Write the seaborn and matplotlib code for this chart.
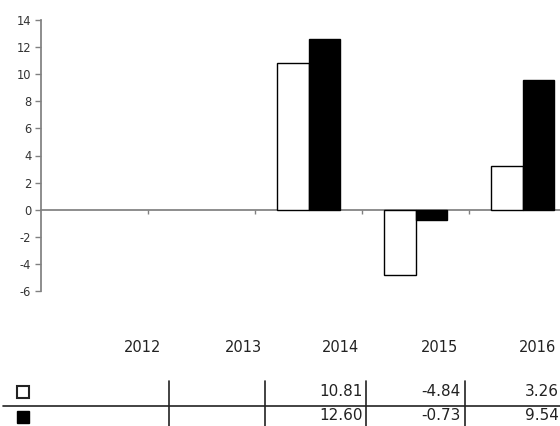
import numpy as np
import pandas as pd
import seaborn as sns
from matplotlib import pyplot as plt
from matplotlib.lines import Line2D

years = ["2012", "2013", "2014", "2015", "2016"]
series_a = [np.nan, np.nan, 10.81, -4.84, 3.26]
series_b = [np.nan, np.nan, 12.60, -0.73, 9.54]
yticks = list(range(-6, 15, 2))

df = pd.DataFrame({
    "year": years * 2,
    "value": series_a + series_b,
    "series": ["a"] * len(years) + ["b"] * len(years),
})

sns.set_theme(style="white")
plt.rcParams['font.family'] = ['DejaVu Sans']

W, H = 560, 426
fig = plt.figure(figsize=(W / 100, H / 100), dpi=100)
ax = fig.add_axes([41 / W, 1 - 291 / H, 535 / W, 271 / H])

sns.barplot(data=df, x="year", y="value", hue="series", order=years,
            palette={"a": "white", "b": "black"}, width=0.58, gap=0,
            edgecolor="black", linewidth=1.0, legend=False, ax=ax)

gray = "#808080"
ax.set_xlim(-0.5, 4.5)
ax.set_ylim(-6, 14)
ax.set_yticks(yticks)
ax.set_yticklabels([str(t) for t in yticks], fontsize=8.3, color="#333333")
ax.set_xticks([0.5, 1.5, 2.5, 3.5])
ax.set_xticklabels([])
ax.set_xlabel("")
ax.set_ylabel("")
for s in ["top", "right"]:
    ax.spines[s].set_visible(False)
ax.spines["bottom"].set_position(("data", 0))
ax.spines["bottom"].set_color(gray)
ax.spines["left"].set_color(gray)
ax.spines["bottom"].set_zorder(0)
ax.tick_params(axis="y", direction="out", length=4, color=gray, width=1, left=True, pad=3)
ax.tick_params(axis="x", direction="out", length=3, color=gray, width=1, bottom=True)

# data table under the chart
def fx(px):
    return px / W

def fy(py):
    return 1 - py / H

col_centers = [143, 243, 341, 439, 537]
for yr, cx in zip(years, col_centers):
    fig.text(fx(cx), fy(348), yr, ha="center", va="center", fontsize=10.5, color="#222222")

right_edges = [168, 265, 363, 461, 559]
for vals, py in [(series_a, 392), (series_b, 415)]:
    for v, rx in zip(vals, right_edges):
        if not np.isnan(v):
            fig.text(fx(rx), fy(py), f"{v:.2f}", ha="right", va="center", fontsize=11, color="#222222")

for vx in [169, 265, 366, 465]:
    fig.add_artist(Line2D([fx(vx), fx(vx)], [fy(381), fy(426)], color="#222222", lw=1.2))
fig.add_artist(Line2D([fx(3), fx(560)], [fy(405.5), fy(405.5)], color="#222222", lw=1.2))

fig.add_artist(Line2D([fx(23)], [fy(392)], marker="s", markersize=9,
                      markerfacecolor="white", markeredgecolor="#222222", markeredgewidth=1.5))
fig.add_artist(Line2D([fx(23)], [fy(417)], marker="s", markersize=9,
                      markerfacecolor="black", markeredgecolor="black"))

fig.savefig("out.png", dpi=100)
